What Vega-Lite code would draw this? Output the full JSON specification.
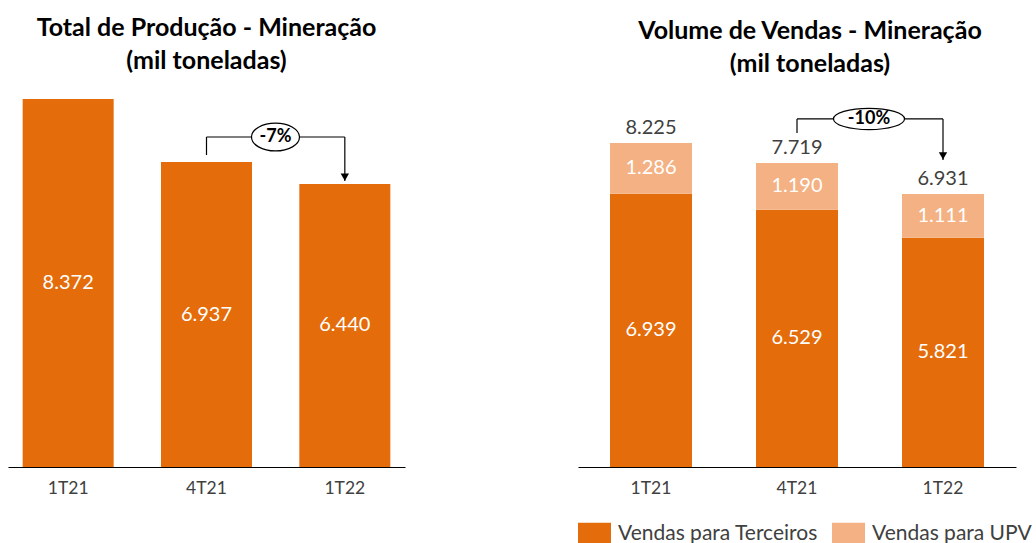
{
  "$schema": "https://vega.github.io/schema/vega-lite/v6.json",
  "background": "white",
  "padding": {"left": 8, "top": 16, "right": 0, "bottom": 0},
  "spacing": 173,
  "config": {
    "font": "Lato",
    "locale": {"number": {"decimal": ",", "thousands": ".", "grouping": [3], "currency": ["R$", ""]}},
    "view": {"stroke": null},
    "axisX": {"labelAngle": 0, "ticks": false, "domainColor": "#000000", "domainWidth": 1.2, "labelFontSize": 17.5, "labelColor": "#404040", "labelPadding": 12, "grid": false},
    "title": {"fontSize": 25, "fontWeight": "bold", "color": "#000000", "lineHeight": 33, "anchor": "middle", "offset": 25}
  },
  "resolve": {"scale": {"x": "independent", "y": "independent", "color": "independent"}, "legend": {"color": "independent"}},
  "hconcat": [
    {
      "width": 397,
      "height": 368,
      "title": {"text": ["Total de Produção - Mineração", "(mil toneladas)"]},
      "layer": [
        {
          "data": {"values": [
            {"periodo": "1T21", "valor": 8372},
            {"periodo": "4T21", "valor": 6937},
            {"periodo": "1T22", "valor": 6440}
          ]},
          "layer": [
            {
              "mark": {"type": "bar", "size": 91, "color": "#E46C0A"},
              "encoding": {
                "x": {"field": "periodo", "type": "nominal", "title": null, "sort": null, "scale": {"domain": ["1T21", "4T21", "1T22"], "paddingInner": 0.13, "paddingOuter": 0}},
                "y": {"field": "valor", "type": "quantitative", "axis": null, "scale": {"domain": [0, 8372], "nice": false}}
              }
            },
            {
              "mark": {"type": "text", "color": "white", "fontSize": 20, "baseline": "middle"},
              "encoding": {
                "x": {"field": "periodo", "type": "nominal", "title": null, "sort": null},
                "y": {"field": "valor", "type": "quantitative", "axis": null, "stack": "zero", "bandPosition": 0.5},
                "text": {"field": "valor", "type": "quantitative", "format": ",.0f"}
              }
            }
          ]
        },
        {
          "data": {"values": [
            {"de": "4T21", "para": "1T22", "inicio": 7097, "topo": 7507, "fim": 6506, "rotulo": "-7%"}
          ]},
          "layer": [
            {
              "mark": {"type": "rule", "color": "#000000", "strokeWidth": 1.2},
              "encoding": {
                "x": {"field": "de", "type": "nominal", "title": null},
                "y": {"field": "inicio", "type": "quantitative", "axis": null},
                "y2": {"field": "topo"}
              }
            },
            {
              "mark": {"type": "rule", "color": "#000000", "strokeWidth": 1.2},
              "encoding": {
                "x": {"field": "de", "type": "nominal", "title": null},
                "x2": {"field": "para"},
                "y": {"field": "topo", "type": "quantitative", "axis": null}
              }
            },
            {
              "mark": {"type": "rule", "color": "#000000", "strokeWidth": 1.2},
              "encoding": {
                "x": {"field": "para", "type": "nominal", "title": null},
                "y": {"field": "topo", "type": "quantitative", "axis": null},
                "y2": {"field": "fim"}
              }
            },
            {
              "mark": {"type": "point", "shape": "triangle-down", "filled": true, "color": "#000000", "size": 70, "opacity": 1, "yOffset": -4},
              "encoding": {
                "x": {"field": "para", "type": "nominal", "title": null},
                "y": {"field": "fim", "type": "quantitative", "axis": null}
              }
            },
            {
              "mark": {"type": "point", "shape": "M-1,0A1,0.58,0,1,0,1,0A1,0.58,0,1,0,-1,0Z", "size": 2304, "filled": true, "fill": "white", "stroke": "#000000", "strokeWidth": 1.2, "opacity": 1, "xOffset": 69},
              "encoding": {
                "x": {"field": "de", "type": "nominal", "title": null},
                "y": {"field": "topo", "type": "quantitative", "axis": null}
              }
            },
            {
              "mark": {"type": "text", "fontSize": 18, "fontWeight": "bold", "color": "#000000", "xOffset": 69, "baseline": "middle"},
              "encoding": {
                "x": {"field": "de", "type": "nominal", "title": null},
                "y": {"field": "topo", "type": "quantitative", "axis": null},
                "text": {"field": "rotulo"}
              }
            }
          ]
        }
      ]
    },
    {
      "width": 438,
      "height": 368,
      "title": {"text": ["Volume de Vendas - Mineração", "(mil toneladas)"], "dx": 13, "dy": 3},
      "layer": [
        {
          "data": {"values": [
            {"periodo": "1T21", "serie": "Vendas para Terceiros", "valor": 6939},
            {"periodo": "1T21", "serie": "Vendas para UPV", "valor": 1286},
            {"periodo": "4T21", "serie": "Vendas para Terceiros", "valor": 6529},
            {"periodo": "4T21", "serie": "Vendas para UPV", "valor": 1190},
            {"periodo": "1T22", "serie": "Vendas para Terceiros", "valor": 5821},
            {"periodo": "1T22", "serie": "Vendas para UPV", "valor": 1111}
          ]},
          "layer": [
            {
              "mark": {"type": "bar", "size": 82},
              "encoding": {
                "x": {"field": "periodo", "type": "nominal", "title": null, "sort": null, "scale": {"domain": ["1T21", "4T21", "1T22"], "paddingInner": 0, "paddingOuter": 0}},
                "y": {"field": "valor", "type": "quantitative", "axis": null, "stack": "zero", "scale": {"domain": [0, 9342], "nice": false}},
                "color": {
                  "field": "serie", "type": "nominal",
                  "scale": {"domain": ["Vendas para Terceiros", "Vendas para UPV"], "range": ["#E46C0A", "#F4B183"]},
                  "legend": {"orient": "bottom", "direction": "horizontal", "title": null, "symbolType": "M-1,-0.667H1V0.667H-1Z", "symbolSize": 1089, "symbolStrokeWidth": 0, "labelFontSize": 21, "labelLimit": 400, "labelColor": "#404040", "labelOffset": 7, "columnPadding": 14, "offset": 20, "padding": 0}
                },
                "order": {"field": "serie", "sort": "ascending"}
              }
            },
            {
              "mark": {"type": "text", "color": "white", "fontSize": 20, "baseline": "middle"},
              "encoding": {
                "x": {"field": "periodo", "type": "nominal", "title": null, "sort": null},
                "y": {"field": "valor", "type": "quantitative", "axis": null, "stack": "zero", "bandPosition": 0.5},
                "detail": {"field": "serie"},
                "order": {"field": "serie", "sort": "ascending"},
                "text": {"field": "valor", "type": "quantitative", "format": ",.0f"}
              }
            }
          ]
        },
        {
          "data": {"values": [
            {"periodo": "1T21", "total": 8225},
            {"periodo": "4T21", "total": 7719},
            {"periodo": "1T22", "total": 6931}
          ]},
          "mark": {"type": "text", "color": "#404040", "fontSize": 20, "baseline": "bottom", "dy": -5},
          "encoding": {
            "x": {"field": "periodo", "type": "nominal", "title": null, "sort": null},
            "y": {"field": "total", "type": "quantitative", "axis": null},
            "text": {"field": "total", "type": "quantitative", "format": ",.0f"}
          }
        },
        {
          "data": {"values": [
            {"de": "4T21", "para": "1T22", "inicio": 8479, "topo": 8835, "fim": 7794, "rotulo": "-10%"}
          ]},
          "layer": [
            {
              "mark": {"type": "rule", "color": "#000000", "strokeWidth": 1.2},
              "encoding": {
                "x": {"field": "de", "type": "nominal", "title": null},
                "y": {"field": "inicio", "type": "quantitative", "axis": null},
                "y2": {"field": "topo"}
              }
            },
            {
              "mark": {"type": "rule", "color": "#000000", "strokeWidth": 1.2},
              "encoding": {
                "x": {"field": "de", "type": "nominal", "title": null},
                "x2": {"field": "para"},
                "y": {"field": "topo", "type": "quantitative", "axis": null}
              }
            },
            {
              "mark": {"type": "rule", "color": "#000000", "strokeWidth": 1.2},
              "encoding": {
                "x": {"field": "para", "type": "nominal", "title": null},
                "y": {"field": "topo", "type": "quantitative", "axis": null},
                "y2": {"field": "fim"}
              }
            },
            {
              "mark": {"type": "point", "shape": "triangle-down", "filled": true, "color": "#000000", "size": 70, "opacity": 1, "yOffset": -4},
              "encoding": {
                "x": {"field": "para", "type": "nominal", "title": null},
                "y": {"field": "fim", "type": "quantitative", "axis": null}
              }
            },
            {
              "mark": {"type": "point", "shape": "M-1,0A1,0.3,0,1,0,1,0A1,0.3,0,1,0,-1,0Z", "size": 5041, "filled": true, "fill": "white", "stroke": "#000000", "strokeWidth": 1.2, "opacity": 1, "xOffset": 72},
              "encoding": {
                "x": {"field": "de", "type": "nominal", "title": null},
                "y": {"field": "topo", "type": "quantitative", "axis": null}
              }
            },
            {
              "mark": {"type": "text", "fontSize": 18, "fontWeight": "bold", "color": "#000000", "xOffset": 72, "baseline": "middle"},
              "encoding": {
                "x": {"field": "de", "type": "nominal", "title": null},
                "y": {"field": "topo", "type": "quantitative", "axis": null},
                "text": {"field": "rotulo"}
              }
            }
          ]
        }
      ]
    }
  ]
}
